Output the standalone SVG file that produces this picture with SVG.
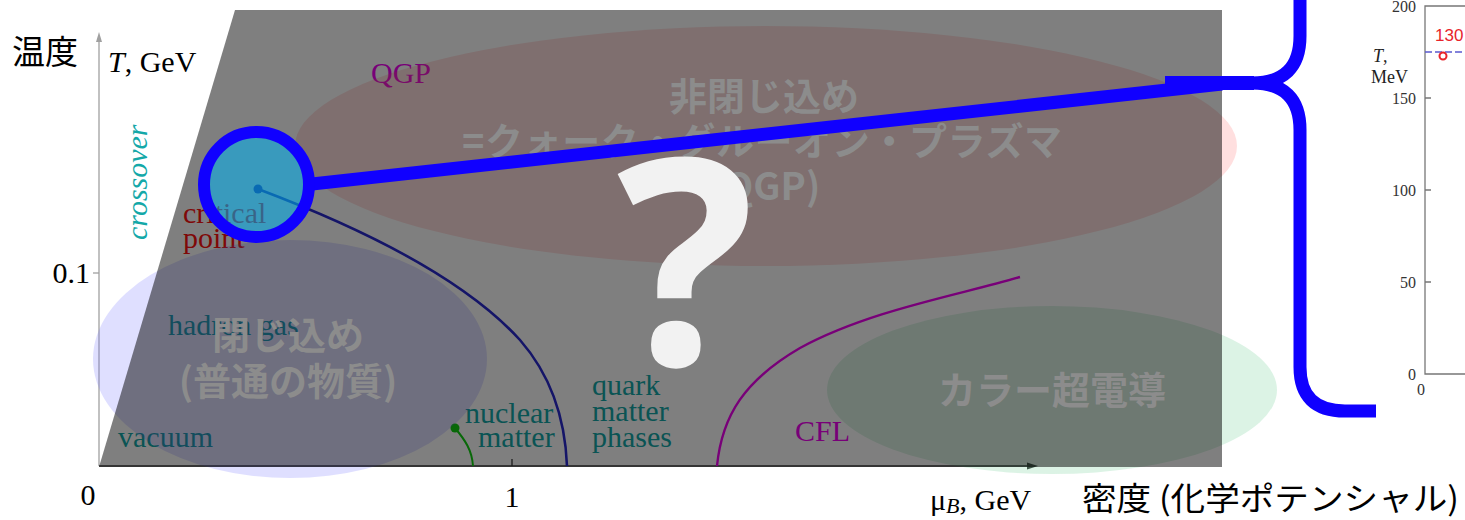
<svg xmlns="http://www.w3.org/2000/svg" width="1465" height="520" viewBox="0 0 1465 520">
<defs>
<style>
.serif{font-family:"Liberation Serif","Times New Roman",serif;font-size:30px}
.it{font-style:italic}
.teal{fill:#14a8a8}
.red{fill:#ff1010}
.purple{fill:#f000f0}
.jpb{font-family:"Noto Sans CJK JP",sans-serif;font-weight:bold;font-size:38px;fill:#8c8c8c;text-anchor:middle}
.jp{font-family:"Noto Sans CJK JP",sans-serif;fill:#000}
.tick{font-family:"Liberation Serif",serif;font-size:16px;fill:#333;text-anchor:end}
.blue{stroke:#1000ff;fill:none}
</style>
</defs>
<rect width="1465" height="520" fill="#ffffff"/>

<g id="phase-plot">
  <line x1="99" y1="466" x2="99" y2="40" stroke="#a0a0a0" stroke-width="1.3"/>
  <polygon points="99,32 96,42 102,42" fill="#a0a0a0"/>
  <line x1="93" y1="273" x2="99" y2="273" stroke="#a0a0a0" stroke-width="1.3"/>
  <line x1="99" y1="466" x2="1030" y2="466" stroke="#383838" stroke-width="1.5"/>
  <polygon points="1038,466 1027,462.5 1027,469.5" fill="#383838"/>
  <line x1="512" y1="466" x2="512" y2="459" stroke="#383838" stroke-width="1.3"/>
  <path d="M258,189 C380,235 470,285 520,340 C548,372 565,415 567,466" fill="none" stroke="#2a2ad0" stroke-width="2.6"/>
  <circle cx="258" cy="189" r="4.5" fill="#2a2ad0"/>
  <path d="M717,466 C722,415 745,380 800,348 C870,310 960,295 1020,277" fill="none" stroke="#f000f0" stroke-width="2.4"/>
  <path d="M455,428 C465,440 472,450 473,466" fill="none" stroke="#10d010" stroke-width="2"/>
  <circle cx="455" cy="428" r="4.5" fill="#10d010"/>
  <text class="serif" x="108" y="72"><tspan class="it">T</tspan>, GeV</text>
  <text class="serif" x="90" y="283" text-anchor="end">0.1</text>
  <text class="serif" x="88" y="505" text-anchor="middle">0</text>
  <text class="serif" x="512" y="507" text-anchor="middle">1</text>
  <text class="serif" x="930" y="510">μ<tspan class="it" font-size="22" dy="3">B</tspan><tspan dy="-3">, GeV</tspan></text>
  <text class="serif it teal" transform="translate(147,240) rotate(-90)">crossover</text>
  <text class="serif red" x="183" y="223">critical</text>
  <text class="serif red" x="183" y="248">point</text>
  <text class="serif purple" x="371" y="83">QGP</text>
  <text class="serif teal" x="168" y="335">hadron gas</text>
  <text class="serif teal" x="118" y="447">vacuum</text>
  <text class="serif teal" x="465" y="423">nuclear</text>
  <text class="serif teal" x="478" y="447">matter</text>
  <text class="serif teal" x="592" y="395">quark</text>
  <text class="serif teal" x="592" y="421">matter</text>
  <text class="serif teal" x="592" y="447">phases</text>
  <text class="serif purple" x="795" y="441">CFL</text>
</g>

<g id="regions">
  <ellipse cx="766" cy="146" rx="471" ry="120" fill="#ff6e6e" fill-opacity="0.22"/>
  <ellipse cx="290" cy="359" rx="197" ry="119" fill="#6e6eff" fill-opacity="0.22"/>
  <ellipse cx="1052" cy="390" rx="225" ry="84" fill="#5ec887" fill-opacity="0.22"/>
</g>

<g id="overlay">
  <polygon points="235,10 1222,10 1222,467 99,467" fill="#000" fill-opacity="0.5"/>
</g>

<g id="region-labels">
  <text class="jpb" x="764" y="110">非閉じ込め</text>
  <text class="jpb" x="762" y="155" textLength="600" lengthAdjust="spacing">=クォーク・グルーオン・プラズマ</text>
  <text class="jpb" x="765" y="200">(QGP)</text>
  <text class="jpb" x="288" y="349">閉じ込め</text>
  <text class="jpb" x="288" y="395">(普通の物質)</text>
  <text class="jpb" x="1052" y="404">カラー超電導</text>
</g>

<g id="question">
  <text x="685" y="365" text-anchor="middle" font-family="'Noto Sans','Open Sans',sans-serif" font-weight="bold" font-size="288" fill="#f2f2f2">?</text>
</g>

<g id="axis-titles">
  <text class="jp" x="12" y="64" font-size="33">温度</text>
  <text class="jp" x="1082" y="510" font-size="32" textLength="377" lengthAdjust="spacingAndGlyphs">密度 (化学ポテンシャル)</text>
</g>

<g id="inset-plot">
  <path d="M1465,6 H1425 V374 H1465" fill="none" stroke="#777" stroke-width="1.3"/>
  <path d="M1425,98 h6 M1425,190 h6 M1425,282 h6" stroke="#777" stroke-width="1.3"/>
  <text class="tick" x="1416" y="12">200</text>
  <text class="tick" x="1416" y="104">150</text>
  <text class="tick" x="1416" y="196">100</text>
  <text class="tick" x="1416" y="288">50</text>
  <text class="tick" x="1416" y="380">0</text>
  <text class="tick" x="1425" y="395" text-anchor="middle">0</text>
  <text x="1373" y="62" font-family="'Liberation Serif',serif" font-style="italic" font-size="18" fill="#222">T<tspan font-style="normal">,</tspan></text>
  <text x="1371" y="83" font-family="'Liberation Serif',serif" font-size="18" fill="#222">MeV</text>
  <line x1="1425" y1="52" x2="1465" y2="52" stroke="#5a5ad0" stroke-width="1.5" stroke-dasharray="7,3"/>
  <circle cx="1443" cy="56" r="3.5" fill="none" stroke="#e8242c" stroke-width="2"/>
  <text x="1435" y="41" font-family="'Liberation Sans',sans-serif" font-size="17" fill="#e8242c">130</text>
</g>

<g id="connectors">
  <line class="blue" x1="312" y1="184" x2="1222" y2="84" stroke-width="13"/>
</g>

<g id="critical-point-highlight">
  <circle cx="256.5" cy="184.5" r="52.5" fill="#00b0f0" fill-opacity="0.55" stroke="#1000ff" stroke-width="12"/>
</g>

<g id="brace">
  <path class="blue" d="M1165,83 H1254" stroke-width="14"/>
  <path class="blue" d="M1300,-10 V36 Q1300,83 1252,83 Q1300,83 1300,130 V367 Q1300,411 1345,411 H1376" stroke-width="13"/>
</g>
</svg>
